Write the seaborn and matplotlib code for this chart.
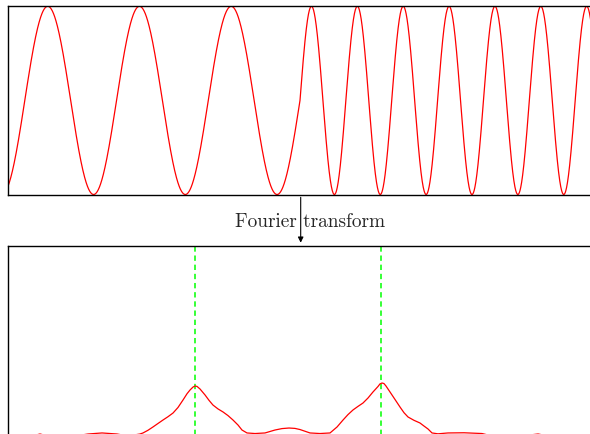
import numpy as np
import pandas as pd
import matplotlib
matplotlib.use("Agg")
import matplotlib.pyplot as plt
import seaborn as sns

# Señal: sin(20 t) para t < 0, sin(40 t) para t >= 0, t en [-1, 1]
t_range = [-1.0, 1.0]
t_switch = 0.0
omega_parts = [20.0, 40.0]

# Espectro (frecuencia angular, magnitud)
freq = [0.0, 1.29, 2.57, 3.43, 4.29, 7.18, 8.58, 10.08, 11.68, 12.86,
        14.15, 14.47, 15.0, 15.54, 16.08, 16.61, 17.15, 17.69, 18.22, 18.76,
        19.19, 19.51, 19.83, 20.04, 20.26, 20.58, 21.12, 21.55, 21.97, 22.51,
        23.05, 23.58, 24.12, 24.66, 25.08, 25.62, 26.48, 27.55, 28.62, 29.37,
        30.12, 30.76, 31.30, 32.37, 33.44, 34.52, 35.27, 35.91, 36.44, 36.98,
        37.52, 38.05, 38.59, 39.12, 39.66, 39.87, 40.09, 40.30, 40.52, 40.95,
        41.48, 42.02, 42.45, 42.88, 43.52, 44.16, 44.59, 45.02, 45.45, 46.09,
        47.16, 48.88, 50.81, 51.88, 54.35, 55.96, 56.82, 57.90, 62.60]
magnitude = [0.0, 0.0, 0.0, 0.021, 0.0, 0.0, 0.021, 0.032, 0.021, 0.0,
             0.021, 0.032, 0.060, 0.095, 0.132, 0.168, 0.203, 0.242, 0.300, 0.379,
             0.445, 0.484, 0.515, 0.526, 0.522, 0.495, 0.432, 0.375, 0.326, 0.285,
             0.253, 0.215, 0.168, 0.115, 0.063, 0.032, 0.026, 0.032, 0.063, 0.078,
             0.084, 0.080, 0.068, 0.032, 0.026, 0.032, 0.095, 0.168, 0.225, 0.274,
             0.312, 0.347, 0.400, 0.463, 0.521, 0.548, 0.558, 0.552, 0.526, 0.463,
             0.385, 0.305, 0.245, 0.200, 0.165, 0.137, 0.105, 0.074, 0.032, 0.023,
             0.032, 0.034, 0.026, 0.0, 0.0, 0.011, 0.021, 0.0, 0.0]
peak_freqs = [20.0, 40.0]

t = np.linspace(t_range[0], t_range[1], 4001)
signal = np.where(t < t_switch, np.sin(omega_parts[0] * t), np.sin(omega_parts[1] * t))
df_sig = pd.DataFrame({"t": t, "s": signal})
df_spec = pd.DataFrame({"w": freq, "F": magnitude})

sns.set_style("white", {"axes.edgecolor": "black"})

W, H = 590, 434
fig = plt.figure(figsize=(W / 100, H / 100), dpi=100)

# Panel superior: señal
ax1 = fig.add_axes([8 / W, (H - 194.5) / H, 584 / W, 188.2 / H])
sns.lineplot(data=df_sig, x="t", y="s", color="red", lw=0.9, ax=ax1)
ax1.set_xlim(t_range)
ax1.set_ylim(-1, 1)

# Panel inferior: transformada
ax2 = fig.add_axes([8 / W, (H - 436) / H, 584 / W, 190 / H])
for pf in peak_freqs:
    ax2.axvline(pf, color="#00ff00", lw=1.1, dashes=(3.5, 2.5))
sns.lineplot(data=df_spec, x="w", y="F", color="red", lw=0.9, ax=ax2)
ax2.set_xlim(0, 62.6)
ax2.set_ylim(0, 2)

for ax in (ax1, ax2):
    ax.set_xticks([])
    ax.set_yticks([])
    ax.set_xlabel("")
    ax.set_ylabel("")
    for sp in ax.spines.values():
        sp.set_linewidth(1.0)
        sp.set_color("black")

# Flecha y texto
fig.add_artist(matplotlib.patches.FancyArrowPatch(
    (300.7 / W, 1 - 197.3 / H), (300.7 / W, 1 - 242.7 / H),
    transform=fig.transFigure, arrowstyle="-|>", mutation_scale=8,
    lw=0.8, color="black", shrinkA=0, shrinkB=0))
fig.text(235 / W, 1 - 226.7 / H, "Fourier transform", fontfamily="cmr10",
         fontsize=13.9, ha="left", va="baseline")

fig.savefig("out.png", dpi=100)
